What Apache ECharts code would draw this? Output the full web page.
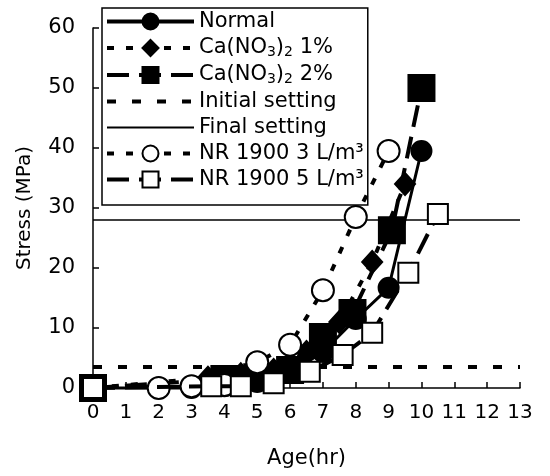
<!DOCTYPE html>
<html>
<head>
<meta charset="utf-8">
<script src="https://cdn.jsdelivr.net/npm/echarts@6/dist/echarts.min.js"></script>
<style>
html,body{margin:0;padding:0;background:#fff;}
#chart{width:550px;height:476px;}
</style>
</head>
<body>
<div id="chart"></div>
<script>
// Data (Age in hr, Stress in MPa)
const normal = [[0,0],[3,0],[4,0.3],[5,1],[6,2.5],[7,6],[8,11.5],[9,16.7],[10,39.5]];
const ca1 = [[0,0],[3.5,1.7],[4.5,2.3],[5.5,3],[6.5,6],[7.5,11],[8.5,21],[9.5,34]];
const ca2 = [[0,0],[4,1.5],[5,1.8],[6,3],[7,8.5],[7.9,12.5],[9.1,26.3],[10,50]];
const nr3 = [[2,0],[3,0.3],[4,0.5],[5,4.3],[6,7.2],[7,16.3],[8,28.5],[9,39.5]];
const nr5 = [[0,0],[3.6,0.3],[4.5,0.3],[5.5,0.8],[6.6,2.7],[7.6,5.5],[8.5,9.2],[9.6,19.2],[10.5,29]];
const initialSetting = [[0,3.5],[13,3.5]];
const finalSetting = [[0,28],[13,28]];
const xTicks = [0,13,1];
const yTicks = [0,60,10];
const names = ['Normal','Ca1','Ca2','Initial setting','Final setting','NR 1900 3 L/m³','NR 1900 5 L/m³'];

const FONT = 'DejaVu Sans';
const chart = echarts.init(document.getElementById('chart'));

function lineSeries(name, data, symbol, size, fill, dash, width, z) {
  return {
    name: name, type: 'line', data: data, symbol: symbol, symbolSize: size,
    showSymbol: symbol !== 'none', clip: false, z: z,
    itemStyle: {color: fill, borderColor: '#000', borderWidth: 2},
    lineStyle: {color: '#000', width: width, type: dash},
    emphasis: {disabled: true}, animation: false
  };
}

const legendData = names.map(function (n) {
  if (n === 'Initial setting') {
    return {name: n, itemStyle: {opacity: 0, color: 'rgba(0,0,0,0)', borderWidth: 0}, lineStyle: {width: 4}};
  }
  if (n === 'Final setting') {
    return {name: n, itemStyle: {opacity: 0, color: 'rgba(0,0,0,0)', borderWidth: 0}, lineStyle: {width: 2}};
  }
  return {name: n, lineStyle: {width: 4}};
});

const option = {
  animation: false,
  grid: {left: 93, right: 30, top: 28, bottom: 88},
  xAxis: {
    type: 'value', min: xTicks[0], max: xTicks[1], interval: xTicks[2],
    name: 'Age(hr)', nameLocation: 'middle', nameGap: 60,
    nameTextStyle: {fontFamily: FONT, fontSize: 21, color: '#000'},
    axisLine: {lineStyle: {color: '#000', width: 1.5}},
    axisTick: {inside: true, length: 6, lineStyle: {color: '#000', width: 1.5}},
    axisLabel: {fontFamily: FONT, fontSize: 20, color: '#000', margin: 15},
    splitLine: {show: false}
  },
  yAxis: {
    type: 'value', min: yTicks[0], max: yTicks[1], interval: yTicks[2],
    name: 'Stress (MPa)', nameLocation: 'middle', nameGap: 58,
    nameTextStyle: {fontFamily: FONT, fontSize: 20, color: '#000'},
    axisLine: {lineStyle: {color: '#000', width: 1.5}},
    axisTick: {inside: true, length: 6, lineStyle: {color: '#000', width: 1.5}},
    axisLabel: {fontFamily: FONT, fontSize: 21, color: '#000', margin: 18},
    splitLine: {show: false}
  },
  legend: {
    orient: 'vertical', left: 102, top: 8,
    backgroundColor: '#fff', borderColor: '#000', borderWidth: 1.5,
    padding: [3, 4, 15, 3], itemWidth: 87, itemHeight: 20, itemGap: 5,
    data: legendData,
    formatter: function (n) {
      if (n === 'Ca1') return '{t|Ca(NO}{s|3}{t|)}{s|2}{t| 1%}';
      if (n === 'Ca2') return '{t|Ca(NO}{s|3}{t|)}{s|2}{t| 2%}';
      return '{t|' + n + '}';
    },
    textStyle: {
      fontFamily: FONT, fontSize: 21, color: '#000',
      rich: {
        t: {fontFamily: FONT, fontSize: 21, color: '#000', lineHeight: 22},
        s: {fontFamily: FONT, fontSize: 14, color: '#000', lineHeight: 22, verticalAlign: 'bottom', padding: [8, 0, 0, 0]}
      }
    }
  },
  series: [
    lineSeries('Normal', normal, 'circle', 20, '#000', 'solid', 3, 3),
    lineSeries('Ca1', ca1, 'diamond', [20, 22], '#000', [7, 12], 4, 3),
    lineSeries('Ca2', ca2, 'rect', 26, '#000', [22, 10], 4, 3),
    lineSeries('Initial setting', initialSetting, 'none', 0, '#000', [9, 16], 4, 2),
    lineSeries('Final setting', finalSetting, 'none', 0, '#000', 'solid', 1.5, 2),
    lineSeries('NR 1900 3 L/m³', nr3, 'circle', 22, '#fff', [7, 12], 4, 4),
    lineSeries('NR 1900 5 L/m³', nr5, 'rect', 20, '#fff', [22, 10], 4, 5)
  ]
};
chart.setOption(option);
</script>
</body>
</html>
